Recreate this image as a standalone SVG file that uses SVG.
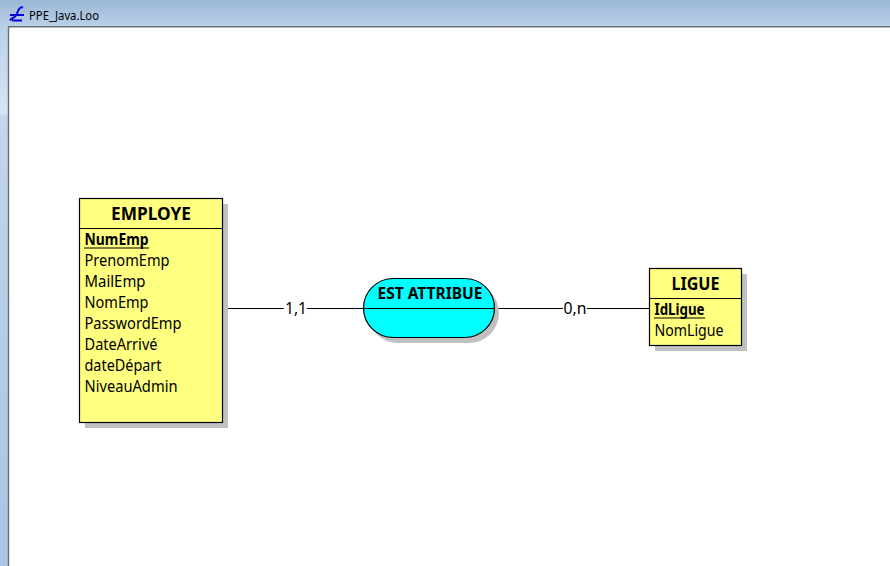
<svg xmlns="http://www.w3.org/2000/svg" width="890" height="566" viewBox="0 0 890 566">
<style>
text{font-family:"Noto Sans","Open Sans","DejaVu Sans",sans-serif;fill:#000}
.box{fill:#ffff80;stroke:#000;stroke-width:1.2}
.shadow{fill:#c0c0c0}
.sep{stroke:#000;stroke-width:1}
.title{font-size:18.500px;font-weight:700;text-anchor:middle}
.attr{font-size:15.500px}
.key{font-size:15.500px;font-weight:700}
.card{font-size:15.500px;text-anchor:middle}
.link{stroke:#000;stroke-width:1;fill:none}
</style>
<defs>
<linearGradient id="bar" x1="0" y1="0" x2="0" y2="1"><stop offset="0" stop-color="#9cb7d5"/><stop offset="1" stop-color="#b9d1ea"/></linearGradient>
<linearGradient id="side" x1="0" y1="0" x2="0" y2="1"><stop offset="0" stop-color="#b9d1ea"/><stop offset="0.16" stop-color="#d6e5f5"/><stop offset="0.165" stop-color="#c2d6ec"/><stop offset="1" stop-color="#a9c4e4"/></linearGradient>
</defs>
<rect width="890" height="566" fill="#fff"/>
<g id="window">
<rect x="0" y="0" width="890" height="27" fill="url(#bar)"/>
<rect x="0" y="27" width="8" height="539" fill="url(#side)"/>
<path d="M8.500 566V27" stroke="#6e6e6e" stroke-width="1.400" fill="none"/>
<path d="M8 26.700H890" stroke="#6e6e6e" stroke-width="1.400" fill="none"/>
<path d="M10 20.500C12 17 15 19 17 13.500C18 10 20 6.500 23 7.500M10 15H24M12 20.500H22" stroke="#0000e0" stroke-width="2" fill="none"/>
<text x="29" y="20" font-size="12px" fill="#1a1030" textLength="70" lengthAdjust="spacingAndGlyphs">PPE_Java.Loo</text>
</g>
<g id="connectors">
<path class="link" d="M228 308.500H284M307 308.500H364"/>
<path class="link" d="M497 308.500H563M587 308.500H650"/>
<text class="card" x="296" y="314" textLength="22" lengthAdjust="spacingAndGlyphs">1,1</text>
<text class="card" x="575" y="314" textLength="23" lengthAdjust="spacingAndGlyphs">0,n</text>
</g>
<g id="employe">
<rect class="shadow" x="85" y="204" width="143" height="224"/>
<rect class="box" x="79.500" y="198.500" width="143" height="224"/>
<path class="sep" d="M80 228.500H222"/>
<text class="title" x="151" y="220" textLength="80" lengthAdjust="spacingAndGlyphs">EMPLOYE</text>
<text class="key" x="84.500" y="245" textLength="64" lengthAdjust="spacingAndGlyphs">NumEmp</text>
<path class="sep" d="M84 248H149"/>
<text class="attr" x="84.500" y="266" textLength="85" lengthAdjust="spacingAndGlyphs">PrenomEmp</text>
<text class="attr" x="84.500" y="287" textLength="61" lengthAdjust="spacingAndGlyphs">MailEmp</text>
<text class="attr" x="84.500" y="308" textLength="64" lengthAdjust="spacingAndGlyphs">NomEmp</text>
<text class="attr" x="84.500" y="329" textLength="97" lengthAdjust="spacingAndGlyphs">PasswordEmp</text>
<text class="attr" x="84.500" y="350" textLength="73" lengthAdjust="spacingAndGlyphs">DateArrivé</text>
<text class="attr" x="84.500" y="371" textLength="77" lengthAdjust="spacingAndGlyphs">dateDépart</text>
<text class="attr" x="84.500" y="392" textLength="93" lengthAdjust="spacingAndGlyphs">NiveauAdmin</text>
</g>
<g id="est-attribue">
<rect class="shadow" x="368" y="283" width="131" height="60" rx="30" ry="30"/>
<rect x="363.500" y="278.500" width="131" height="59" rx="30" ry="30" fill="#00ffff" stroke="#000" stroke-width="1.200"/>
<path class="sep" d="M364 308.500H494"/>
<text x="430" y="299" font-size="15.500px" font-weight="700" text-anchor="middle" textLength="105" lengthAdjust="spacingAndGlyphs">EST ATTRIBUE</text>
</g>
<g id="ligue">
<rect class="shadow" x="655" y="274" width="92" height="77"/>
<rect class="box" x="649.500" y="268.500" width="92" height="77"/>
<path class="sep" d="M650 298.500H741"/>
<text class="title" x="695.500" y="290" textLength="48" lengthAdjust="spacingAndGlyphs">LIGUE</text>
<text class="key" x="654.500" y="315" textLength="50" lengthAdjust="spacingAndGlyphs">IdLigue</text>
<path class="sep" d="M654 318H705"/>
<text class="attr" x="654.500" y="336" textLength="69" lengthAdjust="spacingAndGlyphs">NomLigue</text>
</g>
</svg>
